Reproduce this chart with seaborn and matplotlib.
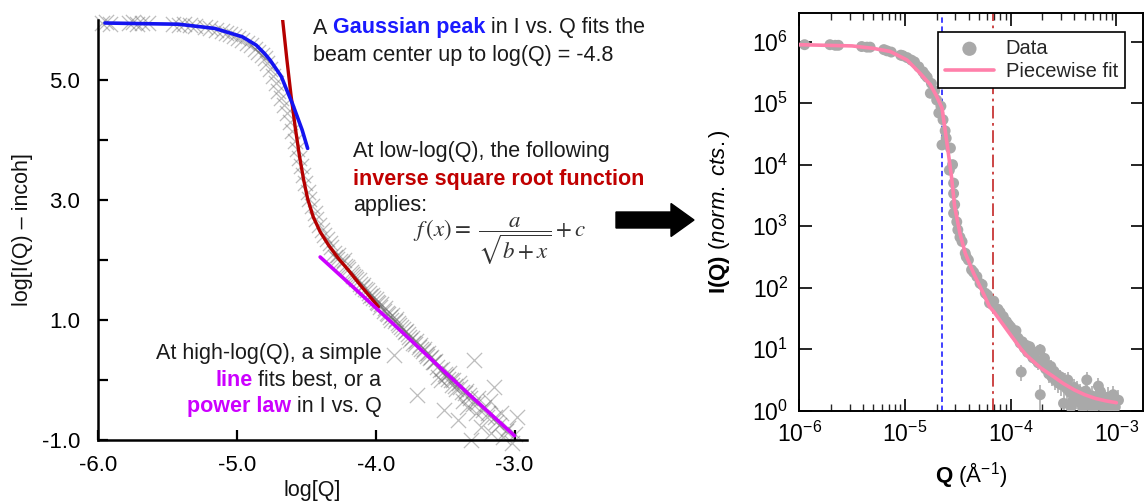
import numpy as np
import matplotlib
matplotlib.use("Agg")
import matplotlib.pyplot as plt
import seaborn as sns
from matplotlib.transforms import IdentityTransform
from matplotlib.patches import FancyArrow
from matplotlib.ticker import LogLocator, NullLocator, NullFormatter

# ---------------- data: left panel (log-log, incoherent subtracted) ----------------
left_logq = [
    -5.97, -5.94, -5.91, -5.78, -5.75, -5.72, -5.68, -5.64, -5.46, -5.42,
    -5.38, -5.34, -5.30, -5.23, -5.19, -5.15, -5.11, -5.08, -5.05, -5.02,
    -4.99, -4.96, -4.93, -4.90, -4.87, -4.85, -4.82, -4.80, -4.78, -4.76,
    -4.74, -4.72, -4.70, -4.68, -4.66, -4.64, -4.62, -4.60, -4.58, -4.57,
    -4.55, -4.54, -4.52, -4.51, -4.49, -4.48, -4.46, -4.44, -4.43, -4.41,
    -4.39, -4.37, -4.35, -4.33, -4.32, -4.30, -4.29, -4.27, -4.26, -4.24,
    -4.23, -4.21, -4.20, -4.18, -4.17, -4.15, -4.14, -4.12, -4.11, -4.09,
    -4.08, -4.06, -4.05, -4.03, -4.02, -4.00, -3.99, -3.97, -3.96, -3.94,
    -3.93, -3.91, -3.90, -3.88, -3.87, -3.86, -3.85, -3.83, -3.82, -3.80,
    -3.79, -3.77, -3.76, -3.74, -3.73, -3.71, -3.70, -3.69, -3.68, -3.66,
    -3.65, -3.63, -3.62, -3.60, -3.59, -3.57, -3.56, -3.55, -3.53, -3.52,
    -3.51, -3.50, -3.48, -3.47, -3.45, -3.44, -3.42, -3.41, -3.40, -3.38,
    -3.37, -3.35, -3.34, -3.33, -3.31, -3.30, -3.29, -3.28, -3.26, -3.24,
    -3.22, -3.20, -3.18, -3.17, -3.15, -3.13, -3.10, -3.08, -3.05, -3.02,
    -2.98,
    -4.28, -4.22, -4.16, -4.10, -4.04, -3.98, -3.92, -3.89, -3.84, -3.78,
    -3.75, -3.72, -3.67, -3.64, -3.61, -3.58, -3.54, -3.49, -3.46, -3.43,
    -3.39, -3.36, -3.32, -3.27, -3.23, -3.19, -3.14, -3.11, -3.06, -3.00,
]
left_logi = [
    5.95, 5.96, 5.94, 5.95, 5.96, 5.94, 5.95, 5.95, 5.93, 5.92,
    5.93, 5.91, 5.90, 5.88, 5.86, 5.84, 5.81, 5.79, 5.76, 5.73,
    5.70, 5.66, 5.62, 5.58, 5.52, 5.47, 5.42, 5.36, 5.28, 5.18,
    5.06, 4.95, 4.82, 4.70, 4.58, 4.45, 4.30, 4.15, 3.98, 3.85,
    3.70, 3.56, 3.42, 3.28, 3.14, 3.02, 2.90, 2.78, 2.68, 2.58,
    2.50, 2.42, 2.35, 2.28, 2.22, 2.12, 2.05, 2.08, 1.98, 1.95,
    2.00, 1.88, 1.85, 1.80, 1.76, 1.72, 1.68, 1.66, 1.60, 1.58,
    1.52, 1.50, 1.45, 1.42, 1.37, 1.35, 1.30, 1.22, 1.27, 1.15,
    1.20, 1.10, 1.05, 1.08, 0.42, 0.98, 1.02, 0.92, 0.88, 0.85,
    0.80, 0.77, 0.72, 0.70, 0.62, 0.65, -0.25, 0.55, 0.58, 0.48,
    0.52, 0.40, 0.45, 0.38, 0.30, 0.32, 0.22, 0.05, 0.00, 0.18,
    -0.50, 0.10, 0.02, 0.12, -0.08, 0.00, -0.15, -0.67, -0.05, -0.20,
    -0.35, -0.18, -0.45, -0.25, -1.00, -0.40, 0.33, -0.55, -0.30, -0.78,
    -0.45, -0.62, -0.35, -0.89, -0.11, -0.70, -0.55, -0.95, -0.80, -1.05,
    -0.61,
    2.02, 1.90, 1.74, 1.55, 1.40, 1.28, 1.12, 1.00, 0.95, 0.82,
    0.66, 0.60, 0.52, 0.44, 0.36, 0.30, 0.16, 0.06, 0.00, -0.10,
    -0.12, -0.22, -0.30, -0.38, -0.50, -0.55, -0.62, -0.75, -0.85, -0.90,
]

# fit segments
gauss_q = [-5.95, -5.70, -5.42, -5.16, -4.96, -4.86, -4.80, -4.76, -4.68, -4.64, -4.60, -4.53, -4.49]
gauss_y = [5.95, 5.94, 5.93, 5.86, 5.72, 5.58, 5.44, 5.33, 5.06, 4.83, 4.61, 4.17, 3.86]
isr_q = [-4.67, -4.64, -4.61, -4.58, -4.55, -4.52, -4.49, -4.45, -4.40, -4.34, -4.27, -4.20, -4.11, -3.98]
isr_y = [6.00, 5.35, 4.75, 4.22, 3.75, 3.35, 3.02, 2.72, 2.47, 2.25, 2.03, 1.84, 1.58, 1.22]
line_q = [-4.40, -4.13, -3.88, -3.62, -3.36, -3.00]
line_y = [2.05, 1.48, 0.95, 0.39, -0.17, -0.93]

# ---------------- data: right panel (I vs Q) ----------------
right_logq = [
    -5.95, -5.71, -5.66, -5.63, -5.41, -5.36, -5.33, -5.20, -5.17, -5.13,
    -5.04, -5.02, -4.98, -4.94, -4.91, -4.87, -4.83, -4.81, -4.79, -4.75,
    -4.76, -4.72, -4.70, -4.68, -4.66, -4.64, -4.65, -4.62, -4.61, -4.57,
    -4.58, -4.55, -4.54, -4.54, -4.53, -4.54, -4.51, -4.50, -4.48, -4.46,
    -4.43, -4.42, -4.40, -4.37, -4.35, -4.32, -4.29, -4.27, -4.24, -4.22,
    -4.20, -4.18, -4.16, -4.12, -4.10, -4.07, -4.04, -4.02, -4.00, -3.98,
    -3.96, -3.95, -3.93, -3.91, -3.90, -3.89, -3.87, -3.85, -3.84, -3.82,
    -3.80, -3.79, -3.77, -3.75, -3.74, -3.72, -3.72, -3.70, -3.68, -3.67,
    -3.65, -3.64, -3.62, -3.61, -3.59, -3.58, -3.56, -3.55, -3.53, -3.52,
    -3.50, -3.49, -3.47, -3.46, -3.44, -3.43, -3.41, -3.40, -3.38, -3.37,
    -3.35, -3.34, -3.32, -3.31, -3.29, -3.28, -3.26, -3.25, -3.23, -3.22,
    -3.20, -3.19, -3.17, -3.15, -3.14, -3.12, -3.10, -3.08, -3.06, -3.05,
    -3.03, -3.01, -2.98,
]
right_logi = [
    5.95, 5.95, 5.94, 5.94, 5.92, 5.91, 5.91, 5.87, 5.85, 5.83,
    5.78, 5.77, 5.74, 5.70, 5.67, 5.59, 5.51, 5.46, 5.42, 5.32,
    5.16, 5.20, 5.05, 4.84, 4.95, 4.73, 4.32, 4.55, 4.43, 4.27,
    3.91, 4.00, 3.70, 3.53, 3.35, 3.21, 3.07, 2.94, 2.82, 2.75,
    2.56, 2.50, 2.45, 2.29, 2.25, 2.18, 2.07, 2.05, 1.91, 1.88,
    1.75, 1.74, 1.78, 1.65, 1.60, 1.53, 1.45, 1.40, 1.36, 1.31,
    1.25, 1.30, 1.18, 1.10, 0.63, 1.12, 1.02, 1.06, 0.95, 1.04,
    0.92, 0.86, 0.95, 0.82, 0.78, 0.99, 0.26, 0.80, 0.85, 0.68,
    0.74, 0.60, 0.72, 0.55, 0.64, 0.50, 0.58, 0.45, 0.55, 0.42,
    0.12, 0.48, 0.36, 0.50, 0.30, 0.06, 0.17, 0.38, 0.25, 0.33,
    0.14, 0.28, 0.05, 0.22, 0.32, 0.50, 0.16, 0.08, 0.24, 0.02,
    0.13, 0.20, 0.40, 0.31, 0.08, 0.16, 0.04, 0.22, 0.10, 0.02,
    0.26, 0.06, 0.17,
]
right_relerr = [
    0.01, 0.01, 0.01, 0.01, 0.01, 0.01, 0.01, 0.01, 0.01, 0.01,
    0.02, 0.02, 0.02, 0.02, 0.02, 0.02, 0.02, 0.02, 0.02, 0.02,
    0.03, 0.03, 0.03, 0.03, 0.03, 0.03, 0.03, 0.03, 0.03, 0.03,
    0.04, 0.04, 0.04, 0.04, 0.04, 0.04, 0.04, 0.04, 0.04, 0.04,
    0.06, 0.06, 0.06, 0.06, 0.06, 0.06, 0.06, 0.06, 0.06, 0.06,
    0.08, 0.08, 0.08, 0.10, 0.10, 0.10, 0.12, 0.12, 0.12, 0.15,
    0.15, 0.15, 0.15, 0.18, 0.30, 0.18, 0.20, 0.20, 0.20, 0.20,
    0.22, 0.22, 0.22, 0.25, 0.25, 0.25, 0.45, 0.25, 0.25, 0.28,
    0.28, 0.30, 0.28, 0.30, 0.30, 0.32, 0.30, 0.32, 0.30, 0.35,
    0.50, 0.35, 0.35, 0.35, 0.40, 0.55, 0.45, 0.35, 0.40, 0.40,
    0.50, 0.40, 0.55, 0.45, 0.40, 0.35, 0.50, 0.55, 0.45, 0.60,
    0.50, 0.45, 0.35, 0.40, 0.55, 0.50, 0.60, 0.45, 0.50, 0.60,
    0.40, 0.55, 0.45,
]
fit_logq = [-6.0, -5.5, -5.3, -5.14, -4.98, -4.86, -4.76, -4.70, -4.65, -4.62, -4.59,
            -4.56, -4.53, -4.48, -4.43, -4.35, -4.26, -4.20, -4.16, -4.08, -4.00,
            -3.90, -3.85, -3.72, -3.60, -3.50, -3.40, -3.30, -3.20, -3.10, -3.00]
fit_logi = [5.95, 5.93, 5.89, 5.84, 5.70, 5.49, 5.30, 5.11, 4.92, 4.56, 4.19,
            3.80, 3.32, 2.88, 2.56, 2.23, 1.91, 1.69, 1.61, 1.42, 1.23,
            1.00, 0.90, 0.70, 0.56, 0.44, 0.34, 0.26, 0.20, 0.16, 0.13]
gauss_cut_q = 2.24e-5
power_cut_q = 6.8e-5

left_xticks = [-6.0, -5.0, -4.0, -3.0]
left_yticks = [-1.0, 1.0, 3.0, 5.0]
left_yminor = [0.0, 2.0, 4.0]

# ---------------- style ----------------
sns.set_theme(style="ticks")
plt.rcParams["font.family"] = ["Liberation Sans", "DejaVu Sans"]
plt.rcParams["mathtext.fontset"] = "custom"
plt.rcParams["mathtext.rm"] = "Liberation Sans"
plt.rcParams["mathtext.it"] = "Liberation Sans:italic"
plt.rcParams["mathtext.bf"] = "Liberation Sans:bold"
plt.rcParams["axes.unicode_minus"] = False

W, H = 1144, 501
fig = plt.figure(figsize=(W / 100, H / 100), dpi=100)


def px_rect(l, t, r, b):
    return [l / W, 1 - b / H, (r - l) / W, (b - t) / H]


axL = fig.add_axes(px_rect(98, 20, 527, 440))
axR = fig.add_axes(px_rect(799.3, 12.7, 1143, 410.7))

# ---------------- left panel ----------------
sns.scatterplot(x=left_logq, y=left_logi, marker="x", s=120, color="#6e6e6e",
                alpha=0.45, linewidth=0.9, ax=axL, legend=False, zorder=2, clip_on=False)
sns.lineplot(x=gauss_q, y=gauss_y, color="#1414F0", lw=2.6, ax=axL, sort=False,
             estimator=None, zorder=4)
sns.lineplot(x=isr_q, y=isr_y, color="#B50000", lw=2.4, ax=axL, sort=False,
             estimator=None, zorder=3)
sns.lineplot(x=line_q, y=line_y, color="#CC00FF", lw=2.6, ax=axL, sort=False,
             estimator=None, zorder=3)

axL.set_xlim(-6.0, -2.91)
axL.set_ylim(-1.0, 6.0)
axL.set_xticks(left_xticks)
axL.set_xticklabels([f"{v:.1f}" for v in left_xticks])
axL.set_yticks(left_yticks)
axL.set_yticklabels([f"{v:.1f}" for v in left_yticks])
axL.set_yticks(left_yminor, minor=True)
axL.tick_params(which="both", direction="in", length=7, width=1.6, labelsize=16,
                colors="black")
axL.tick_params(axis="y", which="both", pad=13)
axL.tick_params(axis="x", which="both", pad=11)
for s in ["top", "right"]:
    axL.spines[s].set_visible(False)
for s in ["left", "bottom"]:
    axL.spines[s].set_linewidth(1.8)
    axL.spines[s].set_color("black")
axL.set_xlabel("log[Q]", fontsize=15.5, color="#111111")
axL.set_ylabel("log[I(Q) – incoh]", fontsize=15.5, color="#111111")
axL.xaxis.set_label_coords(0.5, -0.095)
axL.yaxis.set_label_coords(-0.152, 0.5)

# ---------------- right panel ----------------
qR = 10 ** np.array(right_logq)
iR = 10 ** np.array(right_logi)
eR = iR * np.array(right_relerr)
axR.set_xscale("log")
axR.set_yscale("log")
axR.errorbar(qR, iR, yerr=eR, fmt="none", ecolor="#B4B4B4", elinewidth=1.3,
             capsize=0, zorder=2)
sns.scatterplot(x=qR, y=iR, s=62, color="#A9A9A9", edgecolor="none", ax=axR,
                label="Data", zorder=3)
sns.lineplot(x=10 ** np.array(fit_logq), y=10 ** np.array(fit_logi), color="#FF80AA",
             lw=2.6, ax=axR, sort=False, estimator=None, label="Piecewise fit", zorder=4)
axR.axvline(gauss_cut_q, color="#3232FF", lw=1.3, ls=(0, (3, 2)), zorder=1)
axR.axvline(power_cut_q, color="#C83737", lw=1.3, ls=(0, (7, 2.5, 1.5, 2.5)), zorder=1)

axR.set_xlim(1e-6, 10 ** -2.748)
axR.set_ylim(1.0, 10 ** 6.47)
axR.set_xticks([1e-6, 1e-5, 1e-4, 1e-3])
axR.set_xticklabels([r"$10^{-6}$", r"$10^{-5}$", r"$10^{-4}$", r"$10^{-3}$"])
axR.xaxis.set_minor_locator(LogLocator(base=10, subs=np.arange(2, 10), numticks=20))
axR.xaxis.set_minor_formatter(NullFormatter())
axR.set_yticks([10.0 ** k for k in range(7)])
axR.set_yticklabels([rf"$10^{{{k}}}$" for k in range(7)])
axR.yaxis.set_minor_locator(NullLocator())
axR.tick_params(which="major", direction="in", length=9, width=1.2, top=True,
                right=True, labelsize=16.5, pad=8, colors="black")
axR.tick_params(which="minor", direction="in", length=5, width=1.0, top=True,
                right=True)
for s in axR.spines.values():
    s.set_linewidth(1.4)
    s.set_color("black")
axR.set_xlabel(r"$\mathbf{Q}$ (Å$^{-1}$)", fontsize=16, color="black")
axR.set_ylabel(r"$\mathbf{I(Q)}$ $\mathit{(norm.\ cts.)}$", fontsize=16, color="black")
axR.xaxis.set_label_coords(0.5, -0.125)
axR.yaxis.set_label_coords(-0.195, 0.5)

leg = axR.legend(loc="upper right", bbox_to_anchor=(0.9476, 0.9515), borderaxespad=0,
                 frameon=True, fancybox=False, edgecolor="black", framealpha=1,
                 fontsize=14.5, handlelength=2.4, handletextpad=0.6, borderpad=0.35,
                 labelspacing=0.2, markerscale=1.3)
leg.get_frame().set_linewidth(1.2)

# ---------------- annotations (rich text) ----------------
renderer = fig.canvas.get_renderer()


def text_width(s, size, bold=False):
    t = fig.text(0, 0, s, fontsize=size, fontweight="bold" if bold else "normal")
    w = t.get_window_extent(renderer).width
    t.remove()
    return w


def rich(x, y_base, parts, size=15.5, ha="left"):
    space = text_width("a a", size) - text_width("aa", size)
    widths = [text_width(s, size, b) for s, c, b in parts]
    total = sum(widths) + space * (len(parts) - 1)
    x0 = x - total if ha == "right" else x
    for (s, c, b), w in zip(parts, widths):
        fig.text(x0, H - y_base, s, transform=IdentityTransform(), fontsize=size,
                 color=c, fontweight="bold" if b else "normal", ha="left", va="baseline")
        x0 += w + space


K = "#1a1a1a"
BLUE = "#1a1aff"
RED = "#c00000"
MAG = "#cc00ff"

rich(312.7, 33.5, [("A", K, False), ("Gaussian peak", BLUE, True), ("in I vs. Q fits the", K, False)])
rich(312.7, 61, [("beam center up to log(Q) = -4.8", K, False)])
rich(353.3, 157.5, [("At low-log(Q), the following", K, False)])
rich(353.3, 184.5, [("inverse square root function", RED, True)])
rich(353.3, 210.5, [("applies:", K, False)])
rich(381.5, 359.5, [("At high-log(Q), a simple", K, False)], ha="right")
rich(381.5, 386, [("line", MAG, True), ("fits best, or a", K, False)], ha="right")
rich(381.5, 412, [("power law", MAG, True), ("in I vs. Q", K, False)], ha="right")

fig.text(413, H - 241, r"$f\,(x) =\ \dfrac{a}{\sqrt{b+x}} + c$", transform=IdentityTransform(),
         fontsize=16.5, math_fontfamily="stix", color="#333333", ha="left", va="center")

arrow = FancyArrow(616, H - 220, 78, 0, width=16, head_width=33, head_length=23,
                   length_includes_head=True, color="black", transform=IdentityTransform())
fig.add_artist(arrow)

fig.savefig("out.png", dpi=100)
